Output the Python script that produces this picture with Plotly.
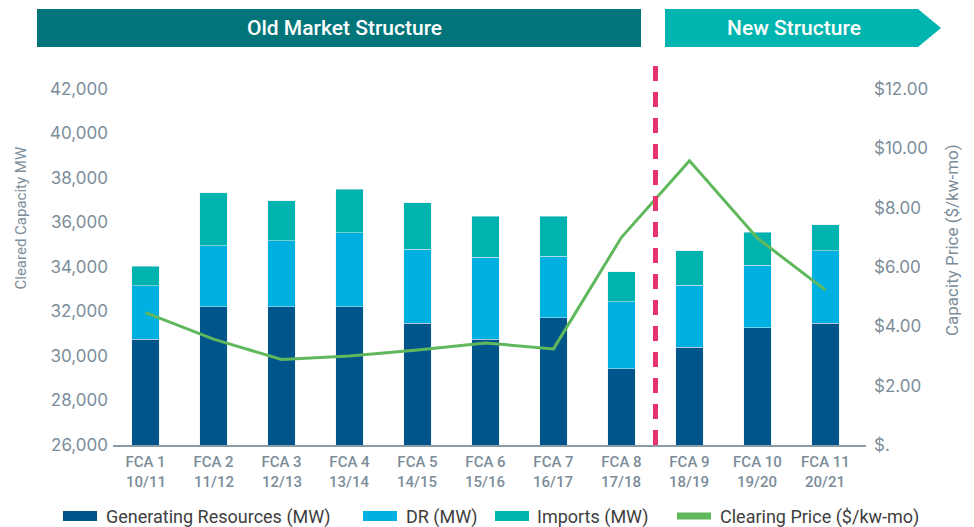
import plotly.graph_objects as go

# ---------------- data ----------------
auctions = ["FCA 1", "FCA 2", "FCA 3", "FCA 4", "FCA 5", "FCA 6", "FCA 7", "FCA 8", "FCA 9", "FCA 10", "FCA 11"]
periods = ["10/11", "11/12", "12/13", "13/14", "14/15", "15/16", "16/17", "17/18", "18/19", "19/20", "20/21"]
generating_mw = [30760, 32220, 32220, 32220, 31480, 30760, 31710, 29420, 30400, 31260, 31480]
dr_mw = [2390, 2740, 2950, 3310, 3320, 3680, 2780, 3010, 2790, 2830, 3240]
imports_mw = [890, 2370, 1800, 1970, 2080, 1850, 1800, 1350, 1530, 1480, 1170]
clearing_price = [4.46, 3.57, 2.88, 3.00, 3.20, 3.44, 3.24, 7.00, 9.58, 6.97, 5.22]

left_tickvals = [26000, 28000, 30000, 32000, 34000, 36000, 38000, 40000, 42000]
right_tickvals = [0, 2, 4, 6, 8, 10, 12]
right_ticktext = ["$.", "$2.00", "$4.00", "$6.00", "$8.00", "$10.00", "$12.00"]

series_names = ["Generating Resources (MW)", "DR (MW)", "Imports (MW)", "Clearing Price ($/kw-mo)"]
banner_texts = ["Old Market Structure", "New Structure"]
divider_position = 7.5  # between FCA 8 and FCA 9

# ---------------- style ----------------
C_GEN = "#00568A"
C_DR = "#00B0E1"
C_IMP = "#00B3AE"
C_LINE = "#60B85C"
C_PINK = "#E8336C"
C_OLD = "#02757A"
C_NEW = "#00B4AF"
C_AXIS_TXT = "#7C8D9A"
C_LEG_TXT = "#3E3E3E"

W, H = 974, 527
L, R, T, B = 113, 866, 89, 445
XMIN, XMAX = -0.478, 10.596


def px(x):
    return (x - L) / (R - L)


def py(y):
    return (B - y) / (B - T)


fig = go.Figure()
fig.add_trace(go.Bar(x=auctions, y=generating_mw, name=series_names[0], marker_color=C_GEN,
                     width=0.4, showlegend=False))
fig.add_trace(go.Bar(x=auctions, y=dr_mw, name=series_names[1], marker_color=C_DR,
                     width=0.4, showlegend=False))
fig.add_trace(go.Bar(x=auctions, y=imports_mw, name=series_names[2], marker_color=C_IMP,
                     width=0.4, showlegend=False))
fig.add_trace(go.Scatter(x=auctions, y=clearing_price, name=series_names[3], yaxis="y2",
                         mode="lines", line=dict(color=C_LINE, width=3), showlegend=False))

shapes = []
annotations = []

# banners
shapes.append(dict(type="rect", xref="paper", yref="paper", x0=px(37), x1=px(641),
                   y0=py(47), y1=py(9), fillcolor=C_OLD, line=dict(width=0), layer="above"))
p = "M {a},{b} L {c},{b} L {d},{m} L {c},{e} L {a},{e} Z".format(
    a=px(665), c=px(918), d=px(941), b=py(47), e=py(9), m=py(28))
shapes.append(dict(type="path", xref="paper", yref="paper", path=p, fillcolor=C_NEW,
                   line=dict(width=0), layer="above"))
annotations.append(dict(xref="paper", yref="paper", x=px(344), y=py(28), text=banner_texts[0],
                        showarrow=False, font=dict(family="Roboto", size=21, color="white", weight=500),
                        xanchor="center", yanchor="middle"))
annotations.append(dict(xref="paper", yref="paper", x=px(794), y=py(28), text=banner_texts[1],
                        showarrow=False, font=dict(family="Roboto", size=21, color="white", weight=500),
                        xanchor="center", yanchor="middle"))

# divider
shapes.append(dict(type="line", xref="x", yref="paper", x0=divider_position, x1=divider_position,
                   y0=0, y1=py(56), line=dict(color=C_PINK, width=5, dash="15px,11px"), layer="above"))

# second line of x labels (delivery periods)
for cat, per in zip(auctions, periods):
    annotations.append(dict(xref="x", yref="paper", x=cat, y=py(481.5), text=per, showarrow=False,
                            xanchor="center", yanchor="middle",
                            font=dict(family="Roboto", size=15, color=C_AXIS_TXT, weight=500)))

# axis titles
annotations.append(dict(xref="paper", yref="paper", x=px(20.5), y=py(218), text="Cleared Capacity MW",
                        textangle=-90, showarrow=False, xanchor="center", yanchor="middle",
                        font=dict(family="Roboto", size=15, color=C_AXIS_TXT)))
annotations.append(dict(xref="paper", yref="paper", x=px(952), y=py(240), text="Capacity Price ($/kw-mo)",
                        textangle=-90, showarrow=False, xanchor="center", yanchor="middle",
                        font=dict(family="Roboto", size=17, color=C_AXIS_TXT)))

# legend (drawn)
leg_items = [(series_names[0], C_GEN, 63, 97, 104, 10),
             (series_names[1], C_DR, 363, 397, 404, 10),
             (series_names[2], C_IMP, 495, 529, 535, 10),
             (series_names[3], C_LINE, 677, 711, 718, 7)]
for name, col, s0, s1, tx, hgt in leg_items:
    shapes.append(dict(type="rect", xref="paper", yref="paper", x0=px(s0), x1=px(s1),
                       y0=py(516 + hgt / 2), y1=py(516 - hgt / 2), fillcolor=col, line=dict(width=0)))
    annotations.append(dict(xref="paper", yref="paper", x=px(tx), y=py(516.5), text=name,
                            showarrow=False, xanchor="left", yanchor="middle",
                            font=dict(family="Roboto", size=18, color=C_LEG_TXT)))

fig.update_layout(
    width=W, height=H,
    margin=dict(l=L, r=W - R, t=T, b=H - B, pad=0),
    paper_bgcolor="white", plot_bgcolor="white",
    barmode="stack", bargap=0.6,
    showlegend=False,
    shapes=shapes, annotations=annotations,
    xaxis=dict(type="category", categoryarray=auctions, range=[XMIN, XMAX],
               showline=True, linecolor="#8D9BA6", linewidth=2, ticks="",
               showgrid=False, zeroline=False,
               tickfont=dict(family="Roboto", size=15, color=C_AXIS_TXT, weight=500),
               ticklabelstandoff=2),
    yaxis=dict(range=[26000, 42000], tickvals=left_tickvals, tickformat=",",
               showgrid=False, zeroline=False, showline=False, ticks="",
               tickfont=dict(family="Inter", size=17, color=C_AXIS_TXT), ticklabelstandoff=4),
    yaxis2=dict(range=[0, 12], overlaying="y", side="right", tickvals=right_tickvals,
                ticktext=right_ticktext, showgrid=False, zeroline=False, showline=False, ticks="",
                tickfont=dict(family="Inter", size=17, color=C_AXIS_TXT), ticklabelstandoff=7),
)

fig.write_html("out.html", config={"displayModeBar": False},
               post_script="document.body.style.margin='0';")
